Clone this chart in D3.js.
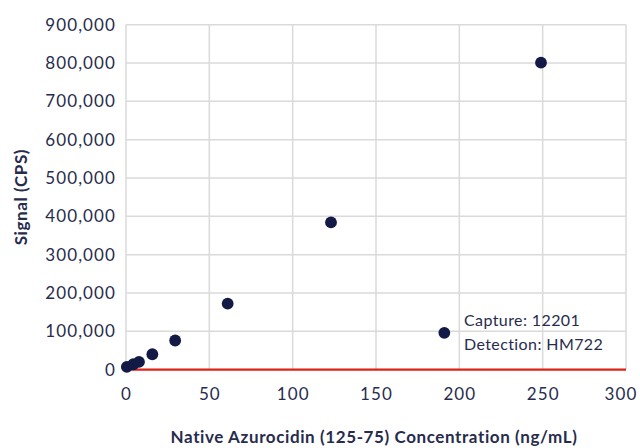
<!DOCTYPE html>
<html>
<head>
<meta charset="utf-8">
<script src="https://cdn.jsdelivr.net/npm/d3@7"></script>
<style>
  html, body { margin: 0; padding: 0; background: #fff; }
  svg { display: block; font-family: Lato, "Open Sans", sans-serif; }
</style>
</head>
<body>
<svg id="chart" width="640" height="448"></svg>
<script>
// Concentration (ng/mL) and measured signal (CPS)
const concentration = [0.5, 4.4, 7.8, 15.8, 29.5, 61, 123, 191, 249];
const signal = [7000, 14000, 20000, 40000, 76000, 172000, 384000, 96000, 801000];
const xTicks = [0, 50, 100, 150, 200, 250, 300];
const yTicks = [0, 100000, 200000, 300000, 400000, 500000, 600000, 700000, 800000, 900000];
const annotation = ["Capture: 12201", "Detection: HM722"];

const svg = d3.select("#chart");
const margin = { left: 126, right: 14, top: 24.7, bottom: 78.4 };
const W = 640, H = 448;
const ink = "#272c4d";

const x = d3.scaleLinear().domain([0, 300]).range([margin.left, W - margin.right]);
const y = d3.scaleLinear().domain([0, 900000]).range([H - margin.bottom, margin.top]);

// grid
svg.append("g").selectAll("line").data(xTicks).join("line")
  .attr("x1", d => x(d)).attr("x2", d => x(d))
  .attr("y1", y(0)).attr("y2", y(900000))
  .attr("stroke", "#dadada").attr("stroke-width", 1.5);
svg.append("g").selectAll("line").data(yTicks).join("line")
  .attr("x1", x(0)).attr("x2", x(300))
  .attr("y1", d => y(d)).attr("y2", d => y(d))
  .attr("stroke", "#dadada").attr("stroke-width", 1.5);

// axes (labels only)
const fmt = d3.format(",");
const yAxis = svg.append("g").attr("transform", `translate(${x(0)},0)`)
  .call(d3.axisLeft(y).tickValues(yTicks).tickFormat(fmt).tickSize(0).tickPadding(10));
const xAxis = svg.append("g").attr("transform", `translate(0,${y(0)})`)
  .call(d3.axisBottom(x).tickValues(xTicks).tickSize(0).tickPadding(18));
[yAxis, xAxis].forEach(g => {
  g.select(".domain").remove();
  g.selectAll("text").attr("fill", ink).attr("font-size", 17)
    .attr("font-family", "Lato, sans-serif").attr("letter-spacing", 1.1);
});
// keep the last x label inside the frame
xAxis.selectAll(".tick").filter(d => d === 300).select("text")
  .attr("text-anchor", "end").attr("x", 11);

// baseline
svg.append("line")
  .attr("x1", x(0)).attr("x2", x(300)).attr("y1", y(0)).attr("y2", y(0))
  .attr("stroke", "#e2231a").attr("stroke-width", 2.2);

// points
svg.append("g").selectAll("circle").data(concentration).join("circle")
  .attr("cx", d => x(d)).attr("cy", (d, i) => y(signal[i]))
  .attr("r", 5.9).attr("fill", "#121a45");

// annotation
svg.append("g").selectAll("text").data(annotation).join("text")
  .attr("x", 464).attr("y", (d, i) => 326 + i * 24)
  .attr("fill", ink).attr("font-size", 16).attr("letter-spacing", 0.4)
  .text(d => d);

// axis titles
svg.append("text")
  .attr("x", (x(0) + x(300)) / 2 - 2).attr("y", 443)
  .attr("text-anchor", "middle").attr("font-weight", "bold")
  .attr("font-size", 17).attr("fill", ink).attr("letter-spacing", 0.6)
  .text("Native Azurocidin (125-75) Concentration (ng/mL)");
svg.append("text")
  .attr("transform", `translate(27,${(y(0) + y(900000)) / 2}) rotate(-90)`)
  .attr("text-anchor", "middle").attr("font-weight", "bold")
  .attr("font-size", 17).attr("fill", ink).attr("letter-spacing", 0.6)
  .text("Signal (CPS)");
</script>
</body>
</html>
